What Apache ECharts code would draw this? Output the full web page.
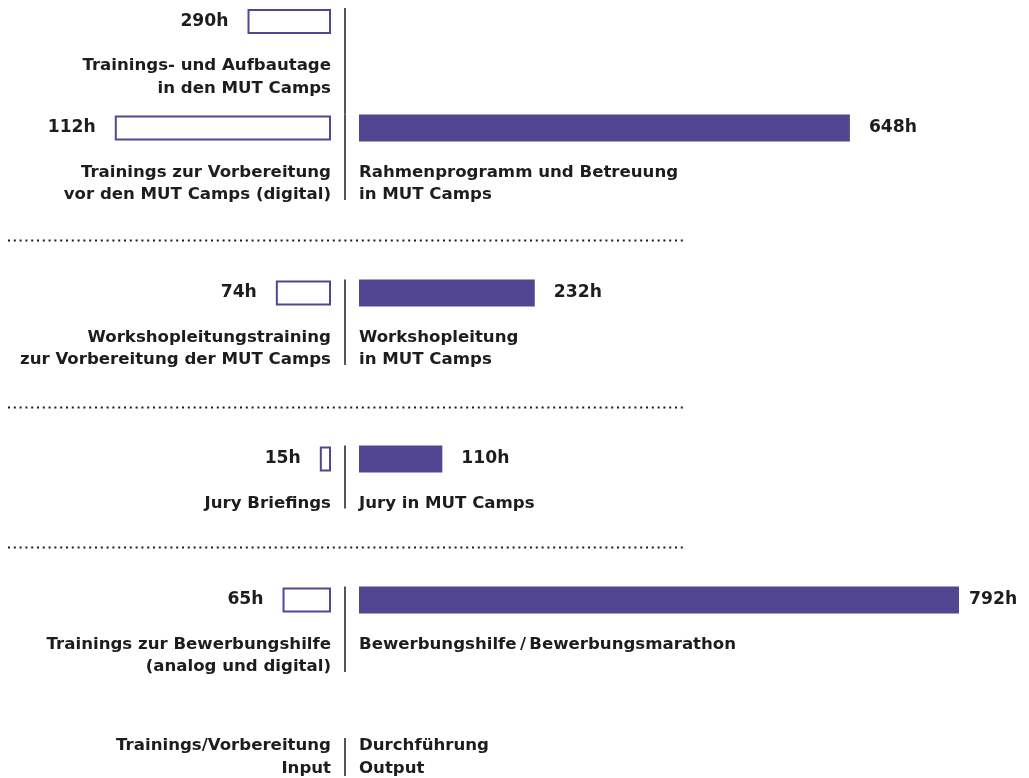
<!DOCTYPE html>
<html>
<head>
<meta charset="utf-8">
<title>MUT Camps Input / Output</title>
<script src="https://cdn.jsdelivr.net/npm/echarts@6.0.0/dist/echarts.min.js"></script>
<style>
  html, body { margin: 0; padding: 0; background: #fff; }
  #chart { width: 1029px; height: 778px; }
</style>
</head>
<body>
<div id="chart"></div>
<script>
// input (Trainings/Vorbereitung) - names per row
var inputNames = [
  ['Trainings- und Aufbautage', 'in den MUT Camps'],
  ['Trainings zur Vorbereitung', 'vor den MUT Camps (digital)'],
  ['Workshopleitungstraining', 'zur Vorbereitung der MUT Camps'],
  ['Jury Briefings'],
  ['Trainings zur Bewerbungshilfe', '(analog und digital)']
];
// output (Durchführung) - names per row
var outputNames = [
  [],
  ['Rahmenprogramm und Betreuung', 'in MUT Camps'],
  ['Workshopleitung', 'in MUT Camps'],
  ['Jury in MUT Camps'],
  ['Bewerbungshilfe\u2009/\u2009Bewerbungsmarathon']
];
// bar lengths as drawn in the source (first two rows look swapped vs their labels)
var inputBarHours = [112, 290, 74, 15, 65];
var inputLabelHours = [290, 112, 74, 15, 65];
var outputHours = [null, 648, 232, 110, 792];
var footerLeft = ['Trainings/Vorbereitung', 'Input'];
var footerRight = ['Durchführung', 'Output'];

var purple = '#524693';
var ink = '#1d1d1b';
var font = 'DejaVu Sans';
var nameSize = 16.6;
var valueSize = 17.2;

// layout
var rowCenter = [21.5, 128, 293, 459, 600];
var barH = 27;
var divX = 345;
var leftEnd = 331, rightStart = 359;
var lineH = 22.5;
var sepY = [240.5, 407.5, 547.5];

var chart = echarts.init(document.getElementById('chart'));

var grids = [], xAxes = [], yAxes = [], series = [], graphics = [];

function textStyle(extra) {
  return Object.assign({ fontFamily: font, fontWeight: 'bold', fontSize: nameSize, fill: ink }, extra);
}

rowCenter.forEach(function (c, i) {
  var top = c - barH / 2;
  // left (input) grid, axis reversed so bars grow to the left
  grids.push({ left: 0, top: top, width: leftEnd, height: barH });
  xAxes.push({ gridIndex: 2 * i, type: 'value', min: 0, max: 444, inverse: true, show: false });
  yAxes.push({ gridIndex: 2 * i, type: 'category', data: [i], show: false });
  series.push({
    type: 'bar', xAxisIndex: 2 * i, yAxisIndex: 2 * i,
    data: [inputBarHours[i]], barWidth: barH - 2, silent: true,
    itemStyle: { color: '#fff', borderColor: purple, borderWidth: 2 },
    label: {
      show: true, position: 'left', distance: 19,
      formatter: function () { return inputLabelHours[i] + 'h'; },
      fontFamily: font, fontWeight: 'bold', fontSize: valueSize, color: ink
    }
  });
  // right (output) grid
  grids.push({ left: rightStart, top: top, width: 600, height: barH });
  xAxes.push({ gridIndex: 2 * i + 1, type: 'value', min: 0, max: 792, show: false });
  yAxes.push({ gridIndex: 2 * i + 1, type: 'category', data: [i], show: false });
  series.push({
    type: 'bar', xAxisIndex: 2 * i + 1, yAxisIndex: 2 * i + 1,
    data: [outputHours[i]], barWidth: barH, silent: true,
    itemStyle: { color: purple },
    label: {
      show: true, position: 'right', distance: i === 4 ? 10 : 19,
      formatter: '{c}h',
      fontFamily: font, fontWeight: 'bold', fontSize: valueSize, color: ink
    }
  });

  // names under the bars
  var nameTop = c + 44.5 - lineH / 2;
  graphics.push({
    type: 'text', x: leftEnd, y: nameTop,
    style: textStyle({ text: inputNames[i].join('\n'), align: 'right', verticalAlign: 'top', lineHeight: lineH })
  });
  if (outputNames[i].length) {
    graphics.push({
      type: 'text', x: rightStart, y: nameTop,
      style: textStyle({ text: outputNames[i].join('\n'), align: 'left', verticalAlign: 'top', lineHeight: lineH })
    });
  }

  // divider segment
  var nLines = Math.max(inputNames[i].length, outputNames[i].length);
  var bottom = i === 0 ? rowCenter[1] - barH / 2 : c + 44.5 + (nLines - 1) * lineH + 5;
  graphics.push({
    type: 'line', shape: { x1: divX, y1: top, x2: divX, y2: bottom },
    style: { stroke: ink, lineWidth: 1.5 }
  });
});

// dotted separators
sepY.forEach(function (y) {
  graphics.push({
    type: 'line', shape: { x1: 8, y1: y, x2: 684, y2: y },
    style: { stroke: ink, lineWidth: 2, lineDash: [2, 3.8] }
  });
});

// footer
graphics.push({
  type: 'text', x: leftEnd, y: 746 - lineH / 2,
  style: textStyle({ text: footerLeft.join('\n'), align: 'right', verticalAlign: 'top', lineHeight: lineH })
});
graphics.push({
  type: 'text', x: rightStart, y: 746 - lineH / 2,
  style: textStyle({ text: footerRight.join('\n'), align: 'left', verticalAlign: 'top', lineHeight: lineH })
});
graphics.push({
  type: 'line', shape: { x1: divX, y1: 738, x2: divX, y2: 776 },
  style: { stroke: ink, lineWidth: 1.5 }
});

chart.setOption({
  backgroundColor: '#fff',
  animation: false,
  grid: grids,
  xAxis: xAxes,
  yAxis: yAxes,
  series: series,
  graphic: graphics
});
</script>
</body>
</html>
